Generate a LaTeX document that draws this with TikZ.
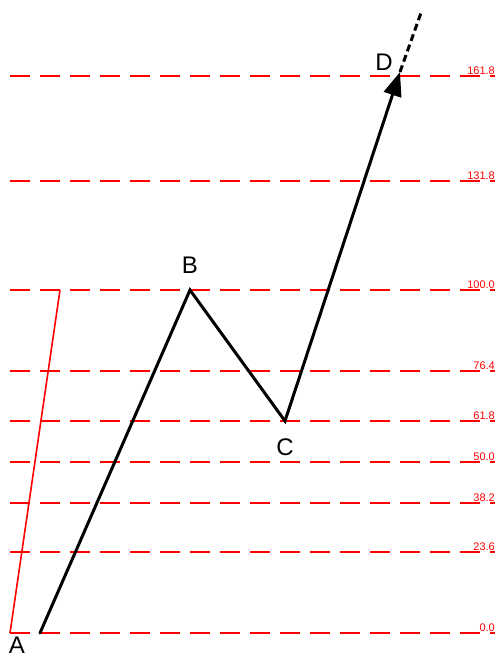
\documentclass[tikz,border=0pt]{standalone}
\usepackage{fontspec}
\setmainfont{Liberation Sans}
\usetikzlibrary{arrows.meta}

\tikzset{
    level/.style={draw=red, line width=1.2pt, dash pattern=on 20pt off 10pt},
    levellabel/.style={text=red, font=\fontsize{11}{13}\selectfont, anchor=south east, inner sep=1pt},
    wave/.style={draw=black, line width=3pt, line cap=round, line join=miter},
    pointlabel/.style={font=\fontsize{24}{28}\selectfont, inner sep=0pt},
}

\begin{document}
\begin{tikzpicture}[x=1pt, y=-1pt]
            \useasboundingbox (0,0) rectangle (498,657);

            % fibonacci levels
            \foreach \lvl/\ypos in {161.8/76, 131.8/181, 100.0/290, 76.4/371, 61.8/421, 50.0/462, 38.2/503, 23.6/552, 0.0/633} {
                \coordinate (l\ypos) at (10,\ypos);
                \coordinate (r\ypos) at (495,\ypos);
                \draw[level] (l\ypos) -- (r\ypos);
                \node[levellabel] at (496,\ypos) {\lvl};
            }

            % swing points
            \coordinate (a) at (40,633);
            \coordinate (b) at (190,290);
            \coordinate (c) at (285,421);
            \coordinate (d) at (400,72);
            \coordinate (e) at (422,10);
            \coordinate (r0) at (10,633);
            \coordinate (r1) at (60,290);

            \node[pointlabel] (la) at (17,645) {A};
            \node[pointlabel] (lb) at (190,265) {B};
            \node[pointlabel] (lc) at (285,447) {C};
            \node[pointlabel] (ld) at (384,62) {D};

            \draw[red, line width=1.6pt] (r0) -- (r1);
            \draw[wave, -{Triangle[length=24pt, width=18pt]}] (a) -- (b) -- (c) -- (d);
            \draw[wave, line cap=butt, dash pattern=on 7pt off 4pt] (d) -- (e);
        \end{tikzpicture}
\end{document}
